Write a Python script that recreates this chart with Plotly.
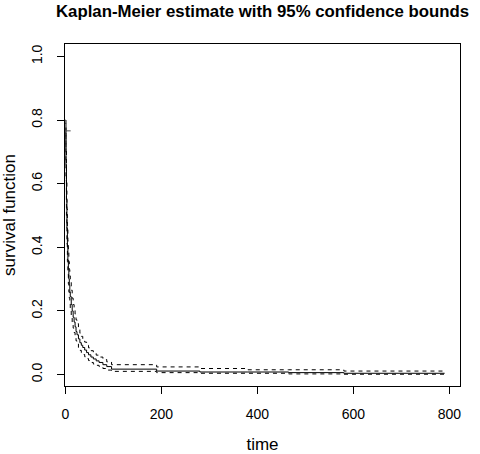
import plotly.graph_objects as go

# Kaplan-Meier step data
time = [0, 1, 2, 3, 4, 5, 6, 7, 8, 9, 10, 12, 14, 16, 18, 20, 22, 24, 27, 30,
        33, 36, 40, 44, 48, 53, 58, 64, 70, 78, 86, 96, 190, 280, 380, 465, 580, 790]
surv = [0.79, 0.66, 0.55, 0.46, 0.40, 0.36, 0.33, 0.30, 0.28, 0.26, 0.245, 0.22,
        0.20, 0.18, 0.165, 0.15, 0.135, 0.125, 0.112, 0.10, 0.092, 0.085, 0.077,
        0.069, 0.062, 0.055, 0.049, 0.043, 0.038, 0.031, 0.025, 0.017, 0.011,
        0.008, 0.008, 0.006, 0.004, 0.004]
upper = [0.80, 0.71, 0.61, 0.52, 0.46, 0.42, 0.385, 0.355, 0.33, 0.31, 0.29, 0.265,
         0.24, 0.22, 0.205, 0.19, 0.172, 0.16, 0.145, 0.13, 0.12, 0.112, 0.102,
         0.092, 0.084, 0.075, 0.068, 0.061, 0.055, 0.047, 0.040, 0.031, 0.024,
         0.019, 0.015, 0.015, 0.011, 0.011]
lower = [0.76, 0.61, 0.50, 0.41, 0.355, 0.315, 0.285, 0.26, 0.24, 0.222, 0.205, 0.183,
         0.163, 0.146, 0.132, 0.118, 0.106, 0.097, 0.085, 0.076, 0.069, 0.063, 0.056,
         0.050, 0.044, 0.038, 0.033, 0.029, 0.025, 0.019, 0.014, 0.010, 0.006,
         0.004, 0.004, 0.002, 0.001, 0.001]
censor_time = [5]
censor_surv = [0.766]

x_ticks = [0, 200, 400, 600, 800]
y_ticks = [0.0, 0.2, 0.4, 0.6, 0.8, 1.0]
y_tick_labels = ["0.0", "0.2", "0.4", "0.6", "0.8", "1.0"]

FONT = "Liberation Sans, Arial, sans-serif"

fig = go.Figure()
fig.add_trace(go.Scatter(x=time, y=surv, mode="lines", line_shape="hv",
                         line=dict(color="black", width=1), showlegend=False))
fig.add_trace(go.Scatter(x=time, y=upper, mode="lines", line_shape="hv",
                         line=dict(color="black", width=1, dash="4px,4px"), showlegend=False))
fig.add_trace(go.Scatter(x=time, y=lower, mode="lines", line_shape="hv",
                         line=dict(color="black", width=1, dash="4px,4px"), showlegend=False))
fig.add_trace(go.Scatter(x=censor_time, y=censor_surv, mode="markers",
                         marker=dict(symbol="line-ew", size=4,
                                     line=dict(color="#555555", width=1)),
                         showlegend=False))

fig.update_layout(
    width=480, height=454,
    margin=dict(l=65, r=20, t=44, b=68),
    paper_bgcolor="white", plot_bgcolor="white",
    font=dict(family=FONT, size=14, color="black"),
    title=dict(text="<b>Kaplan-Meier estimate with 95% confidence bounds</b>",
               font=dict(family=FONT, size=16.8, color="black"),
               x=0.5, xref="paper", xanchor="center",
               y=1 - 11 / 454, yref="container", yanchor="middle"),
    xaxis=dict(range=[-1, 822], tickvals=x_ticks, ticks="outside", ticklen=7,
               tickcolor="black", showline=True, linecolor="black", linewidth=1,
               mirror=True, showgrid=False, zeroline=False, automargin=False,
               ticklabelstandoff=8,
               title=dict(text="time", standoff=39)),
    yaxis=dict(range=[-0.036, 1.039], tickvals=y_ticks, ticktext=y_tick_labels,
               tickangle=-90, ticks="outside", ticklen=7, tickcolor="black",
               showline=True, linecolor="black", linewidth=1, mirror=True,
               showgrid=False, zeroline=False, automargin=False,
               ticklabelstandoff=9,
               title=dict(text="survival function", standoff=14)),
)

fig.write_html("out.html")
